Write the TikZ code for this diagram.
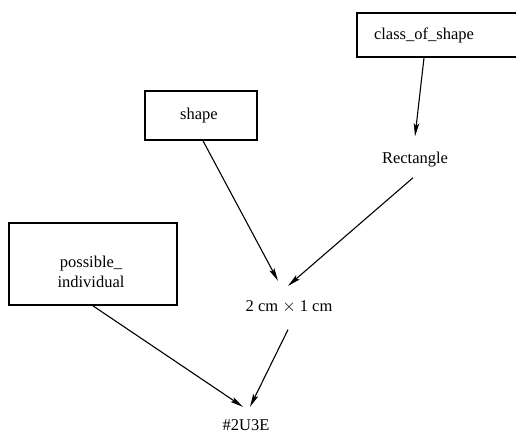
\documentclass[tikz,border=0pt]{standalone}
\usepackage{fontspec}
\setmainfont{Liberation Serif}
\usetikzlibrary{arrows.meta,calc}
\begin{document}
\begin{tikzpicture}[x=1pt,y=-1pt,
  box/.style={draw,line width=1.7pt,inner sep=0pt},
  lbl/.style={inner sep=0pt,font=\fontsize{16.5}{20}\selectfont},
  arr/.style={line width=1.1pt,-{Stealth[length=13pt,width=5.5pt,inset=2.5pt]}}]
\useasboundingbox (0,0) rectangle (516,433);

% frames; the right-hand one runs up to the page edge
\begin{scope}
\clip (0,0) rectangle (516,433);
\node[box,minimum width=161pt,minimum height=44pt] (cosbox) at (437.5,35) {};
\end{scope}
\node[box,minimum width=112pt,minimum height=49pt] (shapebox) at (201,115.5) {};
\node[box,minimum width=168pt,minimum height=82pt] (pibox) at (93,264) {};

% labels
\node[lbl,anchor=base] (cos) at (424,40) {class\_of\_shape};
\node[lbl,anchor=base] (shape) at (199,120) {shape};
\node[lbl,align=center] (pi) at (91,272) {possible\_\\individual};
\node[lbl,anchor=base] (rect) at (415,163) {Rectangle};
\node[lbl,anchor=base] (dims) at (289,311) {2 cm $\times$ 1 cm};
\node[lbl,anchor=base] (id) at (246,430) {\#2U3E};

% connectors
\draw[arr] (cos |- cosbox.south) -- ($(rect.north)+(0,-15)$);
\draw[arr] ([xshift=2pt]shapebox.south) -- ($(dims.north)+(-11,-19)$);
\draw[arr] ($(rect.south)+(-2,11)$) -- ($(dims.north)+(-1,-14)$);
\draw[arr] (pibox.south) -- ($(id.north)+(-3,-12)$);
\draw[arr] ($(dims.south)+(-1,17)$) -- ($(id.north)+(4,-12)$);
\end{tikzpicture}
\end{document}
